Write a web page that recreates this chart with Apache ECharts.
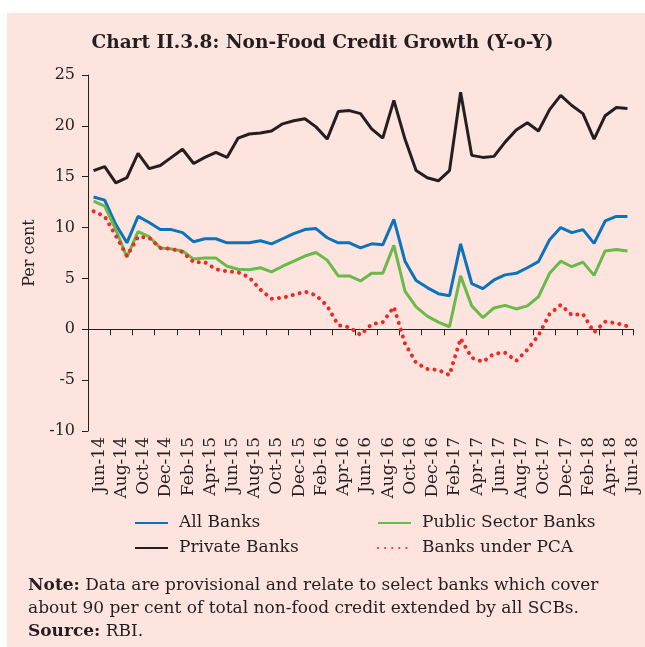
<!DOCTYPE html>
<html>
<head>
<meta charset="utf-8">
<script src="https://cdn.jsdelivr.net/npm/echarts@6/dist/echarts.min.js"></script>
<style>
html, body { margin: 0; padding: 0; background: #fff; }
#chart { width: 645px; height: 647px; }
</style>
</head>
<body>
<div id="chart"></div>
<script>
// monthly, Jun-14 .. Jun-18
const months = [
  'Jun-14','Jul-14','Aug-14','Sep-14','Oct-14','Nov-14','Dec-14','Jan-15','Feb-15','Mar-15',
  'Apr-15','May-15','Jun-15','Jul-15','Aug-15','Sep-15','Oct-15','Nov-15','Dec-15','Jan-16',
  'Feb-16','Mar-16','Apr-16','May-16','Jun-16','Jul-16','Aug-16','Sep-16','Oct-16','Nov-16',
  'Dec-16','Jan-17','Feb-17','Mar-17','Apr-17','May-17','Jun-17','Jul-17','Aug-17','Sep-17',
  'Oct-17','Nov-17','Dec-17','Jan-18','Feb-18','Mar-18','Apr-18','May-18','Jun-18'
];
const tickLabels = [
  'Jun-14','Aug-14','Oct-14','Dec-14','Feb-15','Apr-15','Jun-15','Aug-15','Oct-15','Dec-15',
  'Feb-16','Apr-16','Jun-16','Aug-16','Oct-16','Dec-16','Feb-17','Apr-17','Jun-17','Aug-17',
  'Oct-17','Dec-17','Feb-18','Apr-18','Jun-18'
];

const allBanks = [
  13.0, 12.7, 10.3, 8.5, 11.1, 10.5, 9.8, 9.8, 9.5, 8.6,
  8.9, 8.9, 8.5, 8.5, 8.5, 8.7, 8.4, 8.9, 9.4, 9.8,
  9.9, 9.0, 8.5, 8.5, 8.0, 8.4, 8.3, 10.8, 6.7, 4.8,
  4.1, 3.5, 3.3, 8.4, 4.5, 4.0, 4.85, 5.35, 5.5, 6.05,
  6.65, 8.8, 10.0, 9.5, 9.8, 8.45, 10.65, 11.1, 11.1
];
const privateBanks = [
  15.6, 16.0, 14.4, 14.9, 17.3, 15.8, 16.1, 16.9, 17.7, 16.3,
  16.9, 17.4, 16.9, 18.8, 19.2, 19.3, 19.5, 20.2, 20.5, 20.7,
  19.9, 18.7, 21.4, 21.5, 21.2, 19.7, 18.8, 22.5, 18.7, 15.6,
  14.9, 14.6, 15.6, 23.3, 17.1, 16.9, 17.0, 18.4, 19.6, 20.3,
  19.5, 21.6, 23.0, 22.0, 21.2, 18.7, 21.0, 21.8, 21.7
];
const publicBanks = [
  12.6, 12.1, 9.8, 7.1, 9.6, 9.1, 8.0, 7.9, 7.7, 6.9,
  7.0, 7.0, 6.2, 5.9, 5.85, 6.05, 5.65, 6.2, 6.7, 7.2,
  7.55, 6.8, 5.25, 5.25, 4.75, 5.5, 5.5, 8.25, 3.75, 2.2,
  1.3, 0.7, 0.25, 5.25, 2.3, 1.15, 2.1, 2.35, 2.0, 2.3,
  3.2, 5.5, 6.7, 6.15, 6.6, 5.3, 7.7, 7.85, 7.7
];
const pcaBanks = [
  11.6, 11.1, 9.2, 7.2, 9.1, 9.0, 8.0, 7.9, 7.6, 6.6,
  6.6, 5.9, 5.7, 5.6, 5.1, 3.9, 3.0, 3.1, 3.4, 3.7,
  3.35, 2.3, 0.4, 0.2, -0.55, 0.5, 0.7, 2.2, -1.4, -3.3,
  -3.9, -4.0, -4.5, -0.9, -2.8, -3.2, -2.4, -2.3, -3.1, -2.0,
  -0.6, 1.5, 2.4, 1.4, 1.5, -0.3, 0.75, 0.6, 0.3
];

const serif = "'DejaVu Serif', serif";
const ink = '#231f20';

const chart = echarts.init(document.getElementById('chart'));

const legendText = { fontFamily: serif, fontSize: 17, color: ink, lineHeight: 18, padding: [0, 0, 0, 6] };

chart.setOption({
  animation: false,
  backgroundColor: '#fde4de',
  title: {
    text: 'Chart II.3.8: Non-Food Credit Growth (Y-o-Y)',
    left: 'center',
    top: 29,
    textStyle: { fontFamily: serif, fontSize: 18.5, fontWeight: 'bold', color: ink }
  },
  graphic: [
    { type: 'rect', left: 0, top: 0, shape: { width: 645, height: 13 }, style: { fill: '#fff' } },
    { type: 'rect', left: 0, top: 0, shape: { width: 7, height: 647 }, style: { fill: '#fff' } },
    {
      type: 'text', left: 28, top: 574,
      style: {
        text: '{b|Note:} Data are provisional and relate to select banks which cover\n' +
              'about 90 per cent of total non-food credit extended by all SCBs.\n' +
              '{b|Source:} RBI.',
        fontFamily: serif, fontSize: 17, fill: ink, lineHeight: 23,
        rich: { b: { fontFamily: serif, fontSize: 17, fontWeight: 'bold', fill: ink, lineHeight: 23 } }
      }
    }
  ],
  grid: [
    { left: 88, top: 75, width: 545, height: 356 },
    { left: 88, top: 75, width: 556, height: 356 }
  ],
  xAxis: [
    {
      type: 'category', gridIndex: 0, data: months, boundaryGap: true,
      axisLine: { onZero: true, lineStyle: { color: ink, width: 1 } },
      axisTick: { show: true, interval: 1, length: 6, lineStyle: { color: ink } },
      axisLabel: { show: false },
      splitLine: { show: false }
    },
    {
      type: 'category', gridIndex: 1, data: tickLabels, boundaryGap: true, position: 'bottom',
      axisLine: { show: false, onZero: false },
      axisTick: { show: false },
      axisLabel: { rotate: 90, interval: 0, margin: 6, fontFamily: serif, fontSize: 17, color: ink },
      splitLine: { show: false }
    }
  ],
  yAxis: [
    {
      type: 'value', gridIndex: 0, min: -10, max: 25, interval: 5,
      name: 'Per cent', nameLocation: 'middle', nameGap: 45, nameRotate: 90,
      nameTextStyle: { fontFamily: serif, fontSize: 16, color: ink },
      axisLine: { show: true, lineStyle: { color: ink, width: 1 } },
      axisTick: { show: true, length: 6, lineStyle: { color: ink } },
      axisLabel: { margin: 13, fontFamily: serif, fontSize: 16, color: ink },
      splitLine: { show: false }
    },
    { type: 'value', gridIndex: 1, min: -10, max: 25, show: false }
  ],
  legend: [
    {
      left: 134, top: 514, padding: 0, orient: 'vertical', itemGap: 7, itemWidth: 33, itemHeight: 18,
      selectedMode: false, textStyle: legendText, itemStyle: { opacity: 0 },
      data: ['All Banks', 'Private Banks']
    },
    {
      left: 377, top: 514, padding: 0, orient: 'vertical', itemGap: 7, itemWidth: 33, itemHeight: 18,
      selectedMode: false, textStyle: legendText, itemStyle: { opacity: 0 },
      data: ['Public Sector Banks', 'Banks under PCA']
    }
  ],
  series: [
    {
      name: 'Private Banks', type: 'line', data: privateBanks, symbol: 'none',
      lineStyle: { color: '#231f20', width: 3 }, itemStyle: { color: '#231f20' }
    },
    {
      name: 'All Banks', type: 'line', data: allBanks, symbol: 'none',
      lineStyle: { color: '#0b72bc', width: 3 }, itemStyle: { color: '#0b72bc' }
    },
    {
      name: 'Public Sector Banks', type: 'line', data: publicBanks, symbol: 'none',
      lineStyle: { color: '#6ab94b', width: 3 }, itemStyle: { color: '#6ab94b' }
    },
    {
      name: 'Banks under PCA', type: 'line', data: pcaBanks, symbol: 'none',
      lineStyle: { color: '#ee2a24', width: 4, type: [0.1, 7], cap: 'round' },
      itemStyle: { color: '#ee2a24' }
    }
  ]
});
</script>
</body>
</html>
